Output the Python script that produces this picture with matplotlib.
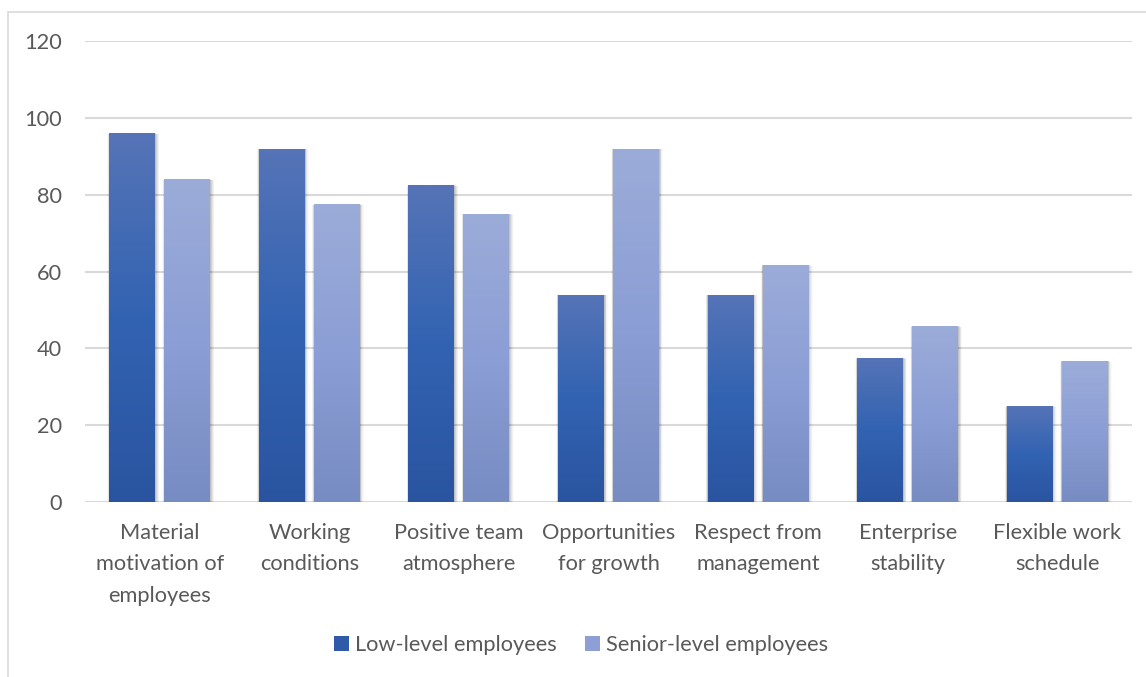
import numpy as np
import matplotlib
matplotlib.use("Agg")
import matplotlib.pyplot as plt
from matplotlib.colors import LinearSegmentedColormap
from matplotlib.patches import Patch, Rectangle

categories = ["Material\nmotivation of\nemployees", "Working\nconditions", "Positive team\natmosphere",
              "Opportunities\nfor growth", "Respect from\nmanagement", "Enterprise\nstability",
              "Flexible work\nschedule"]
low_level = [96, 92, 82.5, 54, 54, 37.5, 25]
senior_level = [84, 77.5, 75, 92, 61.7, 45.8, 36.7]
series_names = ["Low-level employees", "Senior-level employees"]
yticks = [0, 20, 40, 60, 80, 100, 120]

plt.rcParams['font.family'] = ['Lato', 'DejaVu Sans']
txt = '#595959'
fs = 15.7

fig = plt.figure(figsize=(11.46, 6.77), dpi=100)
ax = fig.add_axes([85/1146, 1-502/677, (1132-85)/1146, (502-41)/677])

# figure border (left / top visible)
fig.patches.append(Rectangle((8/1146, -0.1), 1.2, 1 - 12/677 + 0.1, transform=fig.transFigure,
                             fill=False, edgecolor='#D9D9D9', linewidth=1.2, zorder=0))

x = np.arange(len(categories))
w = 0.307
off = 0.184

cm_dark = LinearSegmentedColormap.from_list('d', ['#2A54A0', '#3263B2', '#5674B7'])
cm_light = LinearSegmentedColormap.from_list('l', ['#778CC2', '#8B9ED5', '#9CACD9'])
grad = np.linspace(0, 1, 256).reshape(-1, 1)

def draw(xs, vals, cmap, solid):
    bars = ax.bar(xs, vals, width=w, color=solid, zorder=3, linewidth=0)
    for b in bars:
        x0, y0 = b.get_x(), b.get_y()
        bw, bh = b.get_width(), b.get_height()
        # soft shadow
        for i, a in enumerate([0.09, 0.07, 0.05, 0.035, 0.02]):
            dx = 0.005 * (i + 1)
            dy = 0.4 * (i + 1)
            sh = Rectangle((x0 - dx * 0.5, y0 - dy * 0.6), bw + dx * 1.6, bh + dy * 0.5,
                           facecolor='black', alpha=a, linewidth=0, zorder=2)
            ax.add_patch(sh)
        im = ax.imshow(grad, extent=[x0, x0 + bw, y0, y0 + bh], origin='lower', cmap=cmap,
                       aspect='auto', zorder=4, interpolation='bilinear')
        im.set_clip_path(b)
    return bars

draw(x - off, low_level, cm_dark, '#3563B3')
draw(x + off, senior_level, cm_light, '#8B9ED5')

ax.set_xlim(-0.5, len(categories) - 0.5)
ax.set_ylim(0, 120)
ax.set_yticks(yticks)
ax.set_xticks(x)
ax.set_xticklabels(categories, linespacing=1.72)
ax.tick_params(axis='both', length=0, labelsize=fs, labelcolor=txt)
ax.tick_params(axis='y', pad=16.5)
ax.tick_params(axis='x', pad=15)
ax.grid(axis='y', color='#D9D9D9', linewidth=1.5, zorder=0)
ax.set_axisbelow(True)
for s in ax.spines.values():
    s.set_visible(False)

handles = [Patch(facecolor='#2F5AA8', edgecolor='none'), Patch(facecolor='#8D9FD5', edgecolor='none')]
fig.legend(handles, series_names, loc='center', bbox_to_anchor=(581/1146, 1 - 645/677), ncol=2,
           frameon=False, fontsize=fs, labelcolor=txt, handlelength=0.7, handleheight=0.7,
           handletextpad=0.25, columnspacing=1.3)

fig.savefig('out.png', dpi=100)
